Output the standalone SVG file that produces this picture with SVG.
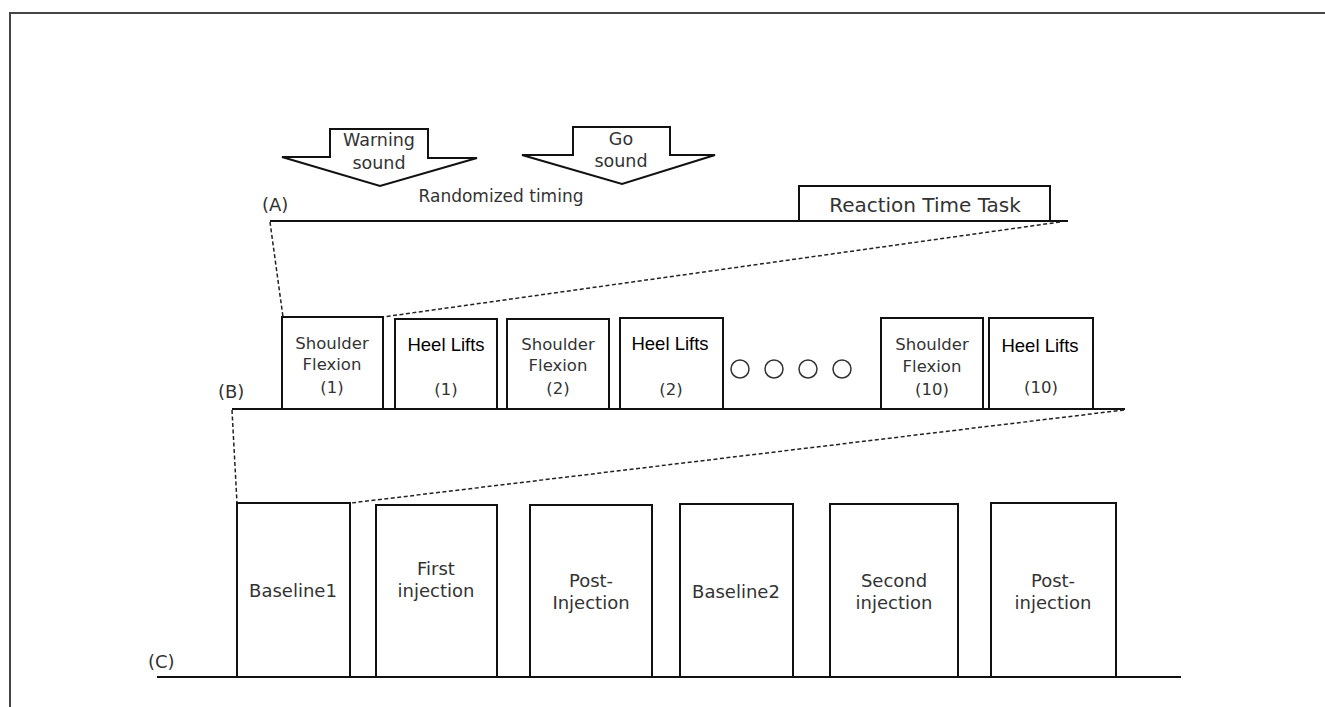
<svg xmlns="http://www.w3.org/2000/svg" width="1325" height="707" viewBox="0 0 1325 707">
<style>
.frame{fill:none;stroke:#444;stroke-width:2}
.box{fill:#fff;stroke:#111;stroke-width:2}
.base{fill:none;stroke:#111;stroke-width:2}
.dash{fill:none;stroke:#222;stroke-width:1.5;stroke-dasharray:4 2.5}
.g{font-family:"DejaVu Sans",sans-serif;fill:#333;text-anchor:middle}
.c{font-family:"Liberation Sans",Arial,sans-serif;fill:#000;text-anchor:middle;font-size:18.5px}
.lab{font-family:"DejaVu Sans",sans-serif;fill:#333;font-size:18px}
.dot{fill:none;stroke:#333;stroke-width:1.5}
</style>
<rect width="1325" height="707" fill="#fff"/>
<path class="frame" d="M10,707 V13 H1325"/>

<g id="timelines">
<line class="base" x1="270" y1="221" x2="1068" y2="221"/>
<line class="base" x1="232" y1="409" x2="1125" y2="409"/>
<line class="base" x1="157" y1="677" x2="1181" y2="677"/>
<text class="lab" x="262" y="211">(A)</text>
<text class="lab" x="218" y="398">(B)</text>
<text class="lab" x="148" y="668">(C)</text>
</g>

<g id="connectors">
<line class="dash" x1="270" y1="222" x2="283" y2="317"/>
<line class="dash" x1="1060" y1="222" x2="383" y2="317"/>
<line class="dash" x1="232" y1="410" x2="237" y2="503"/>
<line class="dash" x1="1124" y1="410" x2="351" y2="503"/>
</g>

<g id="warning">
<polygon class="box" points="330,129 428,129 428,158 477,158 380,186 282,157 330,157"/>
<text class="g" x="379" y="146" font-size="17.5">Warning</text>
<text class="g" x="379" y="169" font-size="17.5">sound</text>
</g>
<g id="go">
<polygon class="box" points="573,127 670,127 670,155 715,155 622,184 522,155 573,155"/>
<text class="g" x="621" y="145" font-size="17.5">Go</text>
<text class="g" x="621" y="167" font-size="17.5">sound</text>
</g>
<text class="g" x="501" y="202" font-size="17">Randomized timing</text>

<g id="rtt">
<rect class="box" x="799" y="186" width="251" height="35"/>
<text class="g" x="925" y="212" font-size="20">Reaction Time Task</text>
</g>

<g id="sf1">
<rect class="box" x="282" y="317" width="101" height="92"/>
<text class="g" x="332" y="349" font-size="16.5">Shoulder</text>
<text class="g" x="332" y="370" font-size="16.5">Flexion</text>
<text class="g" x="332" y="393" font-size="16.5">(1)</text>
</g>
<g id="hl1">
<rect class="box" x="395" y="319" width="102" height="90"/>
<text class="c" x="446" y="351">Heel Lifts</text>
<text class="g" x="446" y="395" font-size="16.5">(1)</text>
</g>
<g id="sf2">
<rect class="box" x="507" y="319" width="102" height="90"/>
<text class="g" x="558" y="350" font-size="16.5">Shoulder</text>
<text class="g" x="558" y="371" font-size="16.5">Flexion</text>
<text class="g" x="558" y="394" font-size="16.5">(2)</text>
</g>
<g id="hl2">
<rect class="box" x="620" y="318" width="103" height="91"/>
<text class="c" x="670" y="350">Heel Lifts</text>
<text class="g" x="671" y="395" font-size="16.5">(2)</text>
</g>
<g id="dots">
<circle class="dot" cx="740" cy="369" r="9"/>
<circle class="dot" cx="774" cy="369" r="9"/>
<circle class="dot" cx="808" cy="369" r="9"/>
<circle class="dot" cx="842" cy="369" r="9"/>
</g>
<g id="sf10">
<rect class="box" x="881" y="318" width="102" height="91"/>
<text class="g" x="932" y="350" font-size="16.5">Shoulder</text>
<text class="g" x="932" y="372" font-size="16.5">Flexion</text>
<text class="g" x="932" y="395" font-size="16.5">(10)</text>
</g>
<g id="hl10">
<rect class="box" x="989" y="318" width="104" height="91"/>
<text class="c" x="1040" y="352">Heel Lifts</text>
<text class="g" x="1041" y="393" font-size="16.5">(10)</text>
</g>

<g id="baseline1">
<rect class="box" x="237" y="503" width="113" height="174"/>
<text class="g" x="293" y="597" font-size="18">Baseline1</text>
</g>
<g id="first">
<rect class="box" x="376" y="505" width="121" height="172"/>
<text class="g" x="436" y="575" font-size="18">First</text>
<text class="g" x="436" y="597" font-size="18">injection</text>
</g>
<g id="post1">
<rect class="box" x="530" y="505" width="122" height="172"/>
<text class="g" x="591" y="587" font-size="18">Post-</text>
<text class="g" x="591" y="609" font-size="18">Injection</text>
</g>
<g id="baseline2">
<rect class="box" x="680" y="504" width="113" height="173"/>
<text class="g" x="736" y="598" font-size="18">Baseline2</text>
</g>
<g id="second">
<rect class="box" x="830" y="504" width="128" height="173"/>
<text class="g" x="894" y="587" font-size="18">Second</text>
<text class="g" x="894" y="609" font-size="18">injection</text>
</g>
<g id="post2">
<rect class="box" x="991" y="503" width="125" height="174"/>
<text class="g" x="1053" y="587" font-size="18">Post-</text>
<text class="g" x="1053" y="609" font-size="18">injection</text>
</g>
</svg>
